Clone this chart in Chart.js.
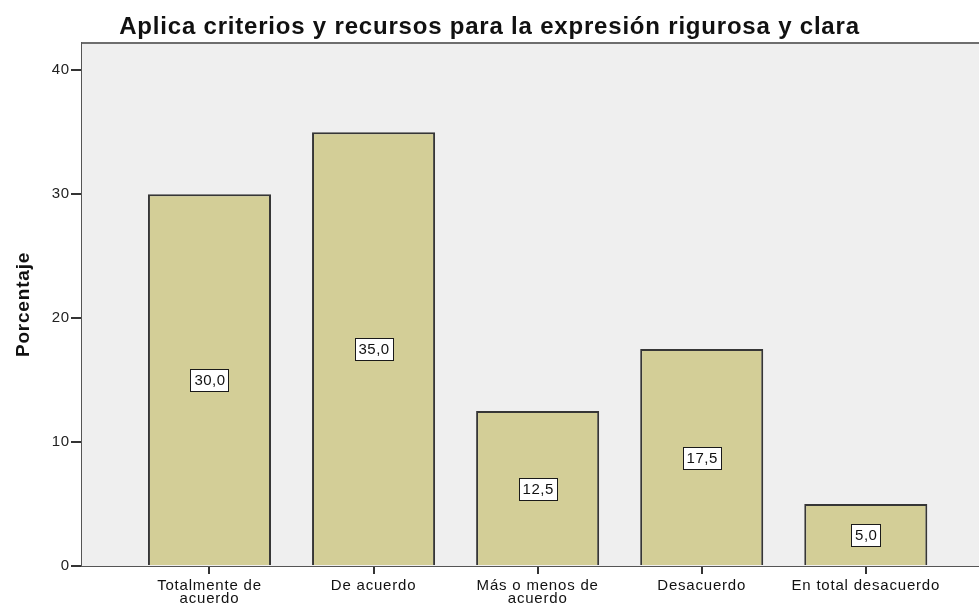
<!DOCTYPE html>
<html>
<head>
<meta charset="utf-8">
<script src="https://cdn.jsdelivr.net/npm/chart.js@4/dist/chart.umd.min.js"></script>
<style>
  html, body { margin: 0; padding: 0; background: #fff; }
  #wrap { width: 979px; height: 603px; }
</style>
</head>
<body>
<div id="wrap"><canvas id="barChart"></canvas></div>
<script>
const categories = [
  ['Totalmente de', 'acuerdo'],
  ['De acuerdo'],
  ['Más o menos de', 'acuerdo'],
  ['Desacuerdo'],
  ['En total desacuerdo']
];
const porcentajes = [30.0, 35.0, 12.5, 17.5, 5.0];
const yTicks = [0, 10, 20, 30, 40];

const FONT = '"Liberation Sans", Arial, sans-serif';

// espaciado de letras como en SPSS
const spacing = {
  id: 'spacing',
  beforeDraw(chart) { chart.ctx.letterSpacing = '0.8px'; },
  afterDraw(chart) { chart.ctx.letterSpacing = '0px'; }
};

// fondo gris del área del gráfico y línea superior
const plotFrame = {
  id: 'plotFrame',
  beforeDatasetsDraw(chart) {
    const { ctx, chartArea: a } = chart;
    ctx.save();
    ctx.fillStyle = '#efefef';
    ctx.fillRect(a.left, a.top, a.right - a.left, a.bottom - a.top);
    ctx.strokeStyle = '#6e6e6e';
    ctx.lineWidth = 2;
    ctx.beginPath();
    ctx.moveTo(a.left, a.top);
    ctx.lineTo(a.right, a.top);
    ctx.stroke();
    ctx.restore();
  }
};

// etiquetas con recuadro blanco en el centro de cada barra
const valueBoxes = {
  id: 'valueBoxes',
  afterDatasetsDraw(chart) {
    const { ctx } = chart;
    const yScale = chart.scales.y;
    const meta = chart.getDatasetMeta(0);
    ctx.save();
    ctx.font = '15px ' + FONT;
    ctx.letterSpacing = '0.5px';
    ctx.textAlign = 'center';
    ctx.textBaseline = 'middle';
    meta.data.forEach((bar, i) => {
      const v = porcentajes[i];
      const txt = v.toFixed(1).replace('.', ',');
      const y = Math.round(yScale.getPixelForValue(v / 2));
      const w = Math.round(ctx.measureText(txt).width + 7);
      const h = 22;
      const x0 = Math.round(bar.x - w / 2);
      ctx.fillStyle = '#ffffff';
      ctx.fillRect(x0, y - h / 2, w, h);
      ctx.strokeStyle = '#1a1a1a';
      ctx.lineWidth = 1;
      ctx.strokeRect(x0 + 0.5, y - h / 2 + 0.5, w, h);
      ctx.fillStyle = '#111';
      ctx.fillText(txt, bar.x + 0.5, y + 1);
    });
    ctx.restore();
  }
};

const data = {
  datasets: [{
    data: porcentajes.map((v, i) => ({ x: i, y: v })),
    backgroundColor: '#d3ce97',
    borderColor: '#363636',
    borderWidth: 2,
    borderSkipped: 'bottom',
    barPercentage: 0.75,
    categoryPercentage: 1
  }]
};

const config = {
  type: 'bar',
  data: data,
  options: {
    responsive: true,
    maintainAspectRatio: false,
    animation: false,
    layout: { padding: { left: 0, right: 0, top: 0, bottom: 0 } },
    plugins: {
      legend: { display: false },
      tooltip: { enabled: false },
      title: {
        display: true,
        text: 'Aplica criterios y recursos para la expresión rigurosa y clara',
        color: '#111',
        font: { family: FONT, size: 24, weight: 'bold', lineHeight: 1.2 },
        padding: { top: 13, bottom: 1.2 }
      }
    },
    scales: {
      x: {
        type: 'linear',
        offset: false,
        min: -0.777,
        max: 4.69,
        afterBuildTicks(scale) {
          scale.ticks = categories.map((c, i) => ({ value: i }));
        },
        afterFit(scale) { scale.height = 37; },
        grid: { display: true, offset: false, drawOnChartArea: false, drawTicks: true, tickLength: 8, color: '#333', lineWidth: 2 },
        border: { display: true, color: '#555', width: 2 },
        ticks: {
          autoSkip: false,
          maxRotation: 0,
          padding: 5,
          color: '#111',
          font: { family: FONT, size: 15, lineHeight: 0.88 },
          callback: (value) => categories[value] || ''
        }
      },
      y: {
        min: 0,
        max: 42.2,
        afterBuildTicks(scale) {
          scale.ticks = yTicks.map(v => ({ value: v }));
        },
        afterFit(scale) { scale.width = 82; },
        grid: { display: true, drawOnChartArea: false, drawTicks: true, tickLength: 11, color: '#333', lineWidth: 2 },
        border: { display: true, color: '#555', width: 2 },
        ticks: {
          padding: 1,
          color: '#222',
          font: { family: FONT, size: 15 }
        },
        title: {
          display: true,
          text: 'Porcentaje',
          color: '#111',
          font: { family: '"Liberation Sans Narrow", "Liberation Sans", Arial, sans-serif', size: 19, weight: 'bold', lineHeight: 1.1 },
          padding: { top: 13, bottom: 0 }
        }
      }
    }
  },
  plugins: [spacing, plotFrame, valueBoxes]
};

let barChart = new Chart(document.getElementById('barChart'), config);
</script>
</body>
</html>
